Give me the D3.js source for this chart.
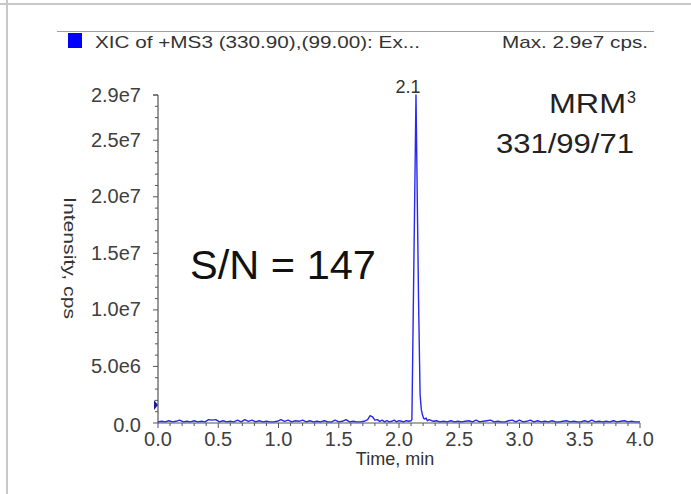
<!DOCTYPE html>
<html><head><meta charset="utf-8">
<script src="https://cdn.jsdelivr.net/npm/d3@7"></script>
<style>html,body{margin:0;padding:0;background:#fff;}svg{display:block;font-family:"Liberation Sans",Arial,sans-serif;}</style>
</head><body>
<svg id="c" width="691" height="494"></svg>
<script>
const legendTitle = "XIC of +MS3 (330.90),(99.00): Ex...";
const maxLabel = "Max. 2.9e7 cps.";
const peakLabel = "2.1";
const snText = "S/N = 147";
const mrmLines = ["MRM", "331/99/71"];
const xTickValues = [0.0, 0.5, 1.0, 1.5, 2.0, 2.5, 3.0, 3.5, 4.0];
const yTickValues = [0, 5e6, 1e7, 1.5e7, 2e7, 2.5e7, 2.9e7];
const yTickLabels = ["0.0", "5.0e6", "1.0e7", "1.5e7", "2.0e7", "2.5e7", "2.9e7"];
const startMarker = [0.0, 1.6e6];
const times = [0.00,0.03,0.06,0.09,0.12,0.15,0.18,0.21,0.24,0.27,0.30,0.33,0.36,0.39,0.42,0.45,0.48,0.51,0.54,0.57,0.60,0.63,0.66,0.69,0.72,0.75,0.78,0.81,0.84,0.87,0.90,0.93,0.96,0.99,1.02,1.05,1.08,1.11,1.14,1.17,1.20,1.23,1.26,1.29,1.32,1.35,1.38,1.41,1.44,1.47,1.50,1.53,1.56,1.59,1.62,1.65,1.68,1.71,1.74,1.76,1.78,1.80,1.82,1.84,1.86,1.88,1.90,1.92,1.94,1.96,1.98,2.00,2.02,2.04,2.06,2.08,2.10,2.107,2.141,2.162,2.175,2.185,2.195,2.205,2.215,2.225,2.235,2.25,2.27,2.29,2.31,2.34,2.37,2.40,2.43,2.46,2.49,2.52,2.55,2.58,2.61,2.64,2.67,2.70,2.73,2.76,2.79,2.82,2.85,2.88,2.91,2.94,2.97,3.00,3.03,3.06,3.09,3.12,3.15,3.18,3.21,3.24,3.27,3.30,3.33,3.36,3.39,3.42,3.45,3.48,3.51,3.54,3.57,3.60,3.63,3.66,3.69,3.72,3.75,3.78,3.81,3.84,3.87,3.90,3.93,3.96,4.00];
const intensities = [1e5,1.5e5,1e5,2e5,1e5,1.5e5,2.5e5,1e5,1.5e5,1e5,2e5,1e5,1.5e5,1e5,3e5,2.5e5,3e5,1e5,2e5,1e5,1.5e5,1e5,2.5e5,1e5,3e5,1.5e5,2.5e5,1e5,2e5,1e5,1.5e5,1e5,1e5,1.5e5,3e5,1.5e5,2.5e5,1e5,2e5,1.5e5,2.5e5,1e5,2e5,1e5,1.5e5,1e5,2e5,1e5,1e5,2.5e5,1e5,1.5e5,3e5,1e5,1.5e5,1e5,1e5,1.5e5,3e5,6.5e5,5.5e5,2.5e5,3e5,1.5e5,2.5e5,1e5,2e5,1e5,1.5e5,2.5e5,1e5,2e5,1.5e5,1e5,2e5,1.5e5,2e5,3e5,2.9e7,1.1e7,2.5e6,1.2e6,7e5,4e5,3.5e5,4.5e5,2e5,3e5,2e5,1.5e5,2e5,1e5,1.5e5,1e5,2e5,1e5,1.5e5,1e5,1.5e5,2e5,1e5,2.5e5,1e5,1.5e5,2e5,2.5e5,1e5,1.5e5,1e5,1e5,2e5,2.5e5,1e5,2.5e5,1e5,1.5e5,2.5e5,1e5,2e5,1e5,1.5e5,1e5,2e5,1e5,1e5,1.5e5,2e5,1e5,1.5e5,1e5,1e5,2e5,1e5,2.5e5,1e5,1.5e5,1e5,1.5e5,1e5,2e5,1e5,1.5e5,2e5,1e5,1.5e5,1e5,1e5];
const data = times.map((t, i) => ({t, v: intensities[i]}));

const svg = d3.select("#c");
const x = d3.scaleLinear().domain([0, 4]).range([158, 640]);
const y = d3.scaleLinear().domain([0, 2.9e7]).range([423, 95]);

// outer frame lines
svg.append("line").attr("x1", 0).attr("x2", 691).attr("y1", 4).attr("y2", 4).attr("stroke", "#c8c8c8").attr("stroke-width", 2);
svg.append("line").attr("x1", 7).attr("x2", 7).attr("y1", 0).attr("y2", 494).attr("stroke", "#c8c8c8").attr("stroke-width", 2);

// legend
svg.append("line").attr("x1", 57).attr("x2", 654).attr("y1", 31.5).attr("y2", 31.5).attr("stroke", "#a0a0a0").attr("stroke-width", 1);
svg.append("rect").attr("x", 68).attr("y", 33).attr("width", 14).attr("height", 15).attr("fill", "#0000ff");
svg.append("text").attr("x", 95).attr("y", 48).attr("font-size", 17).attr("fill", "#333").attr("textLength", 325).attr("lengthAdjust", "spacingAndGlyphs").text(legendTitle);
svg.append("text").attr("x", 502).attr("y", 48).attr("font-size", 17).attr("fill", "#333").attr("textLength", 146).attr("lengthAdjust", "spacingAndGlyphs").text(maxLabel);

// axes
const xMinor = d3.range(0, 41).map(i => i / 10);
const yMinor = d3.range(0, 30).map(i => i * 1e6);
const axisColor = "#555";
const gx = svg.append("g");
gx.append("line").attr("x1", x(0)).attr("x2", x(4)).attr("y1", y(0)).attr("y2", y(0)).attr("stroke", axisColor).attr("stroke-width", 1.2);
gx.selectAll("line.mn").data(xMinor).join("line").attr("class", "mn")
  .attr("x1", d => x(d)).attr("x2", d => x(d)).attr("y1", y(0)).attr("y2", d => y(0) + (Math.abs(d * 2 - Math.round(d * 2)) < 1e-6 ? 5 : 3))
  .attr("stroke", axisColor).attr("stroke-width", 1);
gx.selectAll("text").data(xTickValues).join("text")
  .attr("x", d => x(d)).attr("y", 446).attr("text-anchor", "middle").attr("font-size", 20).attr("fill", "#404040")
  .text(d => d3.format(".1f")(d));
svg.append("text").attr("x", 395).attr("y", 465).attr("text-anchor", "middle").attr("font-size", 18).attr("fill", "#333").text("Time, min");

const gy = svg.append("g");
gy.append("line").attr("x1", x(0)).attr("x2", x(0)).attr("y1", y(0)).attr("y2", y(2.9e7)).attr("stroke", axisColor).attr("stroke-width", 1.2);
gy.selectAll("line.mn").data(yMinor.concat([2.9e7])).join("line").attr("class", "mn")
  .attr("x1", x(0)).attr("x2", d => x(0) - (yTickValues.includes(d) ? 5 : 3)).attr("y1", d => y(d)).attr("y2", d => y(d))
  .attr("stroke", axisColor).attr("stroke-width", 1);
gy.selectAll("text").data(yTickValues).join("text")
  .attr("x", 141).attr("y", d => y(d)).attr("dy", (d, i) => i === 0 ? "0.45em" : "0.33em").attr("text-anchor", "end")
  .attr("font-size", 20).attr("fill", "#404040").text((d, i) => yTickLabels[i]);
svg.append("text").attr("transform", "translate(64,258) rotate(90)").attr("text-anchor", "middle").attr("font-size", 17)
  .attr("fill", "#333").attr("textLength", 122).attr("lengthAdjust", "spacingAndGlyphs").text("Intensity, cps");

// start marker
const mx = x(startMarker[0]), my = y(startMarker[1]);
svg.append("path").attr("d", `M${mx - 4},${my - 5}L${mx},${my}L${mx - 4},${my + 5}Z`).attr("fill", "#1a1a9a");

// trace
const line = d3.line().x(d => x(d.t)).y(d => y(d.v));
svg.append("path").datum(data).attr("d", line).attr("fill", "none").attr("stroke", "#2828f0").attr("stroke-width", 1.4).attr("stroke-linejoin", "round");

// annotations
svg.append("text").attr("x", x(2.141) - 8).attr("y", 93).attr("text-anchor", "middle").attr("font-size", 18).attr("fill", "#333").text(peakLabel);
svg.append("text").attr("x", 190).attr("y", 279).attr("font-size", 40).attr("fill", "#111").attr("textLength", 186).attr("lengthAdjust", "spacingAndGlyphs").text(snText);
svg.append("text").attr("x", 549).attr("y", 113).attr("font-size", 28).attr("fill", "#222").attr("textLength", 77).attr("lengthAdjust", "spacingAndGlyphs").text(mrmLines[0]);
svg.append("text").attr("x", 627).attr("y", 103).attr("font-size", 16).attr("fill", "#222").text("3");
svg.append("text").attr("x", 496).attr("y", 153).attr("font-size", 28).attr("fill", "#222").attr("textLength", 138).attr("lengthAdjust", "spacingAndGlyphs").text(mrmLines[1]);
</script>
</body></html>
